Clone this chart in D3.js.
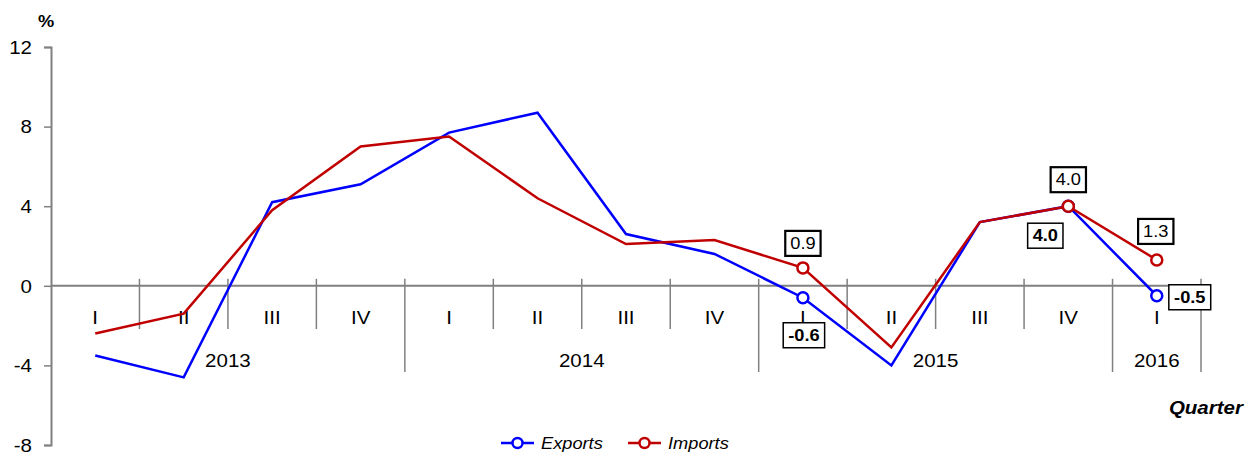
<!DOCTYPE html>
<html>
<head>
<meta charset="utf-8">
<script src="https://cdn.jsdelivr.net/npm/d3@7"></script>
<style>
  body { margin: 0; background: #fff; }
  svg { display: block; font-family: "Liberation Sans", Arial, sans-serif; }
</style>
</head>
<body>
<div id="chart"></div>
<script>
// quarterly growth, %
const quarters = ["I", "II", "III", "IV", "I", "II", "III", "IV", "I", "II", "III", "IV", "I"];
const years = [
  { label: "2013", from: 0, to: 4 },
  { label: "2014", from: 4, to: 8 },
  { label: "2015", from: 8, to: 12 },
  { label: "2016", from: 12, to: 13 }
];
const exportsVals = [-3.5, -4.6, 4.2, 5.1, 7.7, 8.7, 2.6, 1.6, -0.6, -4.0, 3.2, 4.0, -0.5];
const importsVals = [-2.4, -1.4, 3.8, 7.0, 7.5, 4.4, 2.1, 2.3, 0.9, -3.1, 3.2, 4.0, 1.3];
const yTicks = [-8, -4, 0, 4, 8, 12];
const markedIdx = [8, 11, 12];

// label boxes: index and offset from the point
const importLabels = [
  { i: 8, dx: 0, dy: -25 },
  { i: 11, dx: 0, dy: -27 },
  { i: 12, dx: -1, dy: -29 }
];
const exportLabels = [
  { i: 8, dx: 1, dy: 37 },
  { i: 11, dx: -23, dy: 29 },
  { i: 12, dx: 33, dy: 1 }
];

const W = 1251, H = 452;
const SX = 1.14; // the original type is set a little wide
const svg = d3.select("#chart").append("svg").attr("width", W).attr("height", H);

const x = d3.scaleBand().domain(d3.range(quarters.length)).range([51, 1201]);
const y = d3.scaleLinear().domain([-8, 12]).range([445, 47]);
const cx = i => x(i) + x.bandwidth() / 2;
const fmt = v => d3.format(".1f")(v).replace("\u2212", "-");

const AXIS = "#808080";
const BLUE = "#0000ff";
const RED = "#c00000";

// wide text, anchored at (px, py)
function wtext(parent, px, py, str, size, anchor) {
  return parent.append("text")
    .attr("transform", `translate(${px},${py}) scale(${SX},1)`)
    .attr("text-anchor", anchor || "middle")
    .attr("font-size", size)
    .text(str);
}

// y axis
const yAxis = svg.append("g")
  .attr("transform", "translate(51,0)")
  .call(d3.axisLeft(y).tickValues(yTicks).tickSize(7).tickPadding(12)
    .tickFormat(d => String(d)));
yAxis.select(".domain").attr("stroke", AXIS).attr("stroke-width", 2);
yAxis.selectAll(".tick line").attr("stroke", AXIS).attr("stroke-width", 1.5);
yAxis.selectAll(".tick text")
  .attr("x", -19 / SX).attr("dy", "0.35em")
  .attr("transform", `scale(${SX},1)`)
  .attr("font-size", 18).attr("fill", "#000")
  .attr("font-family", "Liberation Sans, Arial, sans-serif");

wtext(svg, 46, 27, "%", 16).attr("font-weight", "bold");

// zero line with category ticks
const y0 = y(0);
svg.append("line").attr("x1", 51).attr("x2", 1201).attr("y1", y0).attr("y2", y0)
  .attr("stroke", AXIS).attr("stroke-width", 2);

const yearEdges = new Set(years.map(d => d.to));
const edges = d3.range(1, quarters.length + 1);
svg.append("g").selectAll("line").data(edges).join("line")
  .attr("x1", i => x(i - 1) + x.bandwidth()).attr("x2", i => x(i - 1) + x.bandwidth())
  .attr("y1", y0 - 7)
  .attr("y2", i => yearEdges.has(i) ? 372 : 329)
  .attr("stroke", AXIS).attr("stroke-width", 1.5);

const qg = svg.append("g");
quarters.forEach((q, i) => wtext(qg, cx(i), 324, q, 18));

const yg = svg.append("g");
years.forEach(d => wtext(yg, (x(d.from) + x(d.to - 1) + x.bandwidth()) / 2, 367, d.label, 18));

wtext(svg, 1243, 414, "Quarter", 18, "end")
  .attr("font-weight", "bold").attr("font-style", "italic");

// series
const line = d3.line().x((d, i) => cx(i)).y(d => y(d));
const series = [
  { name: "Exports", vals: exportsVals, color: BLUE },
  { name: "Imports", vals: importsVals, color: RED }
];
series.forEach(s => {
  svg.append("path").attr("d", line(s.vals)).attr("fill", "none")
    .attr("stroke", s.color).attr("stroke-width", 2.5).attr("stroke-linejoin", "miter");
  svg.append("g").selectAll("circle").data(markedIdx).join("circle")
    .attr("cx", i => cx(i)).attr("cy", i => y(s.vals[i])).attr("r", 5.5)
    .attr("fill", "#fff").attr("stroke", s.color).attr("stroke-width", 2.5);
});

// value boxes
function drawBoxes(labels, vals, bold, sw) {
  labels.forEach(l => {
    const px = cx(l.i) + l.dx, py = y(vals[l.i]) + l.dy;
    const g = svg.append("g");
    const t = wtext(g, px, py + 6, fmt(vals[l.i]), 16)
      .attr("font-weight", bold ? "bold" : "normal");
    const w = t.node().getBBox().width * SX;
    g.insert("rect", "text")
      .attr("x", px - w / 2 - 5).attr("y", py - 12).attr("width", w + 10).attr("height", 25)
      .attr("fill", "#fff").attr("stroke", "#000").attr("stroke-width", sw);
  });
}
drawBoxes(importLabels, importsVals, false, 2.2);
drawBoxes(exportLabels, exportsVals, true, 1.5);

// legend
const legend = svg.append("g").attr("transform", "translate(0,443)");
const legendItems = [
  { name: "Exports", color: BLUE, x0: 501 },
  { name: "Imports", color: RED, x0: 628 }
];
legendItems.forEach(d => {
  legend.append("line").attr("x1", d.x0).attr("x2", d.x0 + 33).attr("y1", 0).attr("y2", 0)
    .attr("stroke", d.color).attr("stroke-width", 2.5);
  legend.append("circle").attr("cx", d.x0 + 16.5).attr("cy", 0).attr("r", 5)
    .attr("fill", "#fff").attr("stroke", d.color).attr("stroke-width", 2.5);
  wtext(legend, d.x0 + 40, 6, d.name, 16, "start").attr("font-style", "italic");
});
</script>
</body>
</html>
